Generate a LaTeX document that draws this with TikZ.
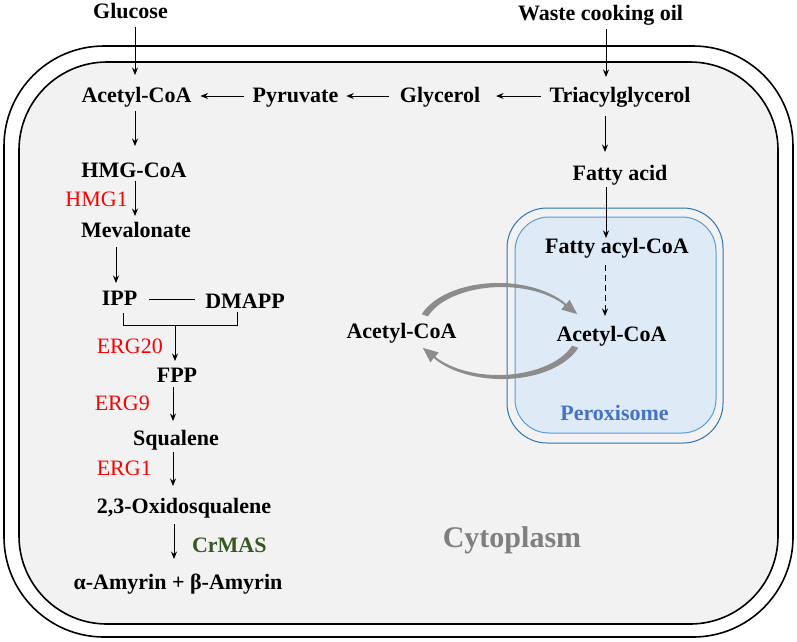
\documentclass[tikz,border=0pt]{standalone}
\usepackage{fontspec}
\setmainfont{Liberation Serif}
\usetikzlibrary{arrows.meta,calc}
\definecolor{cellfill}{HTML}{F2F2F2}
\definecolor{perfill}{HTML}{DEEBF7}
\definecolor{perline}{HTML}{2E75B6}
\definecolor{perlinetwo}{HTML}{5B9BD5}
\definecolor{pertext}{HTML}{4472C4}
\definecolor{enzred}{HTML}{FF0000}
\definecolor{enzgreen}{HTML}{385723}
\definecolor{cytotext}{HTML}{7F7F7F}
\definecolor{cyclegray}{HTML}{8C8C8C}
\begin{document}
\begin{tikzpicture}[x=1pt,y=-1pt,
  met/.style={font=\fontsize{22}{24}\selectfont\bfseries, inner sep=0pt, outer sep=0pt,
              text height=15pt, text depth=4pt, anchor=base},
  enz/.style={font=\fontsize{22}{24}\selectfont, text=enzred, inner sep=0pt, anchor=base east},
  arr/.style={-{Stealth[length=7.5pt,width=6pt]}, line width=0.9pt},
  conn/.style={line width=0.9pt},
  cell/.style={line width=1.6pt},
  cyc/.style={fill=cyclegray}]
\useasboundingbox (0,0) rectangle (797,641);

% cell membranes
\draw[cell, fill=white, rounded corners=100pt] (4,46) rectangle (793,637);
\draw[cell, fill=cellfill, rounded corners=88pt] (19,62) rectangle (778,624);

% peroxisome
\draw[perline, line width=1pt, rounded corners=40pt] (507,208) rectangle (723,443);
\draw[perlinetwo, fill=perfill, line width=1pt, rounded corners=34pt] (515,217) rectangle (716,433);

% metabolites
\node[met] (glucose) at (130.5,18) {Glucose};
\node[met] (waste) at (600.5,20) {Waste cooking oil};
\node[met] (acetyl) at (136.5,102) {Acetyl-CoA};
\node[met] (pyr) at (295.5,102) {Pyruvate};
\node[met] (glyc) at (440,102) {Glycerol};
\node[met] (tri) at (620,102) {Triacylglycerol};
\node[met] (hmg) at (134,177) {HMG-CoA};
\node[met] (mev) at (136,237) {Mevalonate};
\node[met] (ipp) at (119.5,305) {IPP};
\node[met] (dmapp) at (245,308) {DMAPP};
\node[met] (fpp) at (177,382) {FPP};
\node[met] (squal) at (176,445) {Squalene};
\node[met] (oxido) at (184,513) {2,3-Oxidosqualene};
\node[met] (amyrin) at (178,589) {α-Amyrin + β-Amyrin};
\node[met] (fa) at (620,180) {Fatty acid};
\node[met] (fac) at (617,253) {Fatty acyl-CoA};
\node[met] (acp) at (611.5,341) {Acetyl-CoA};
\node[met] (acc) at (401.5,338) {Acetyl-CoA};
\node[met, text=pertext] (perox) at (614.5,420) {Peroxisome};
\node[met, text=cytotext, font=\fontsize{30}{34}\selectfont\bfseries, text height=21pt] (cyto) at (512,547) {Cytoplasm};

% enzymes
\node[enz] (hmgone) at (128,206) {HMG1};
\node[enz] (ergtwenty) at (163,353) {ERG20};
\node[enz] (ergnine) at (150,410) {ERG9};
\node[enz] (ergone) at (152,475) {ERG1};
\node[met, text=enzgreen, anchor=base west] (crmas) at (192,552) {CrMAS};

% column / row helper coordinates
\coordinate (cGlu) at (135,0);
\coordinate (cWas) at (606,0);
\coordinate (cMev) at (116,0);
\coordinate (cFpp) at (173,0);
\coordinate (cSq) at (173,0);
\coordinate (cOx) at (174,0);
\coordinate (cFa) at (605,0);
\coordinate (cFac) at (606,0);
\coordinate (rowA) at (0,96);
\coordinate (rowI) at (0,299);
\coordinate (bl) at (123,325);
\coordinate (br) at (237,325);
\coordinate (bm) at (175,325);

% vertical arrows
\draw[arr, shorten <=5pt, shorten >=12pt] (glucose.south -| cGlu) -- (acetyl.north -| cGlu);
\draw[arr, shorten <=5pt, shorten >=10pt] (waste.south -| cWas) -- (tri.north -| cWas);
\draw[arr, shorten <=5pt, shorten >=16pt] (acetyl.south -| cGlu) -- (hmg.north -| cGlu);
\draw[arr, shorten <=0pt, shorten >=6pt] (hmg.south -| cGlu) -- (mev.north -| cGlu);
\draw[arr, shorten <=6pt, shorten >=7pt] (mev.south -| cMev) -- (ipp.north -| cMev);
\draw[arr, shorten >=6pt] (bm) -- (fpp.north -| bm);
\draw[arr, shorten <=1pt, shorten >=9pt] (fpp.south -| cFpp) -- (squal.north -| cFpp);
\draw[arr, shorten <=3pt, shorten >=12pt] (squal.south -| cSq) -- (oxido.north -| cSq);
\draw[arr, shorten <=7pt, shorten >=15pt] (oxido.south -| cOx) -- (amyrin.north -| cOx);
\draw[arr, shorten <=10pt, shorten >=13pt] (tri.south -| cFa) -- (fa.north -| cFa);
\draw[arr, shorten <=3pt, shorten >=0pt] (fa.south -| cFac) -- (fac.north -| cFac);
\draw[arr, dashed, dash pattern=on 6pt off 4pt, shorten <=8pt, shorten >=10pt] (fac.south -| cFa) -- (acp.north -| cFa);

% horizontal arrows
\draw[arr, shorten <=9pt, shorten >=9pt] (pyr.west |- rowA) -- (acetyl.east |- rowA);
\draw[arr, shorten <=11pt, shorten >=8pt] (glyc.west |- rowA) -- (pyr.east |- rowA);
\draw[arr, shorten <=9pt, shorten >=16pt] (tri.west |- rowA) -- (glyc.east |- rowA);

% IPP - DMAPP and bracket
\draw[conn, shorten <=12pt, shorten >=10pt] (ipp.east |- rowI) -- (dmapp.west |- rowI);
\draw[conn, shorten <=4pt] (ipp.south -| bl) -- (bl) -- (br) -- (dmapp.south -| br);

% acetyl-CoA shuttle (tapered grey arrows)
\fill[cyc]
  plot[variable=\t, domain=160:35, samples=40]
    ({500+(80+1+2.3*(\t-35)/125)*cos(\t)}, {331-(46+1+2.3*(\t-35)/125)*sin(\t)})
  -- (569.6,299.6) -- (577.1,314.1) -- (561.4,309.6)
  -- plot[variable=\t, domain=35:160, samples=40]
    ({500+(80-1-2.3*(\t-35)/125)*cos(\t)}, {331-(46-1-2.3*(\t-35)/125)*sin(\t)})
  -- cycle;
\fill[cyc]
  plot[variable=\t, domain=-20:-145, samples=40]
    ({500+(80+1+2.3*(\t+145)/125)*cos(\t)}, {331-(46+1+2.3*(\t+145)/125)*sin(\t)})
  -- (430.4,362.4) -- (422.9,347.9) -- (438.6,352.4)
  -- plot[variable=\t, domain=-145:-20, samples=40]
    ({500+(80-1-2.3*(\t+145)/125)*cos(\t)}, {331-(46-1-2.3*(\t+145)/125)*sin(\t)})
  -- cycle;
\end{tikzpicture}
\end{document}
